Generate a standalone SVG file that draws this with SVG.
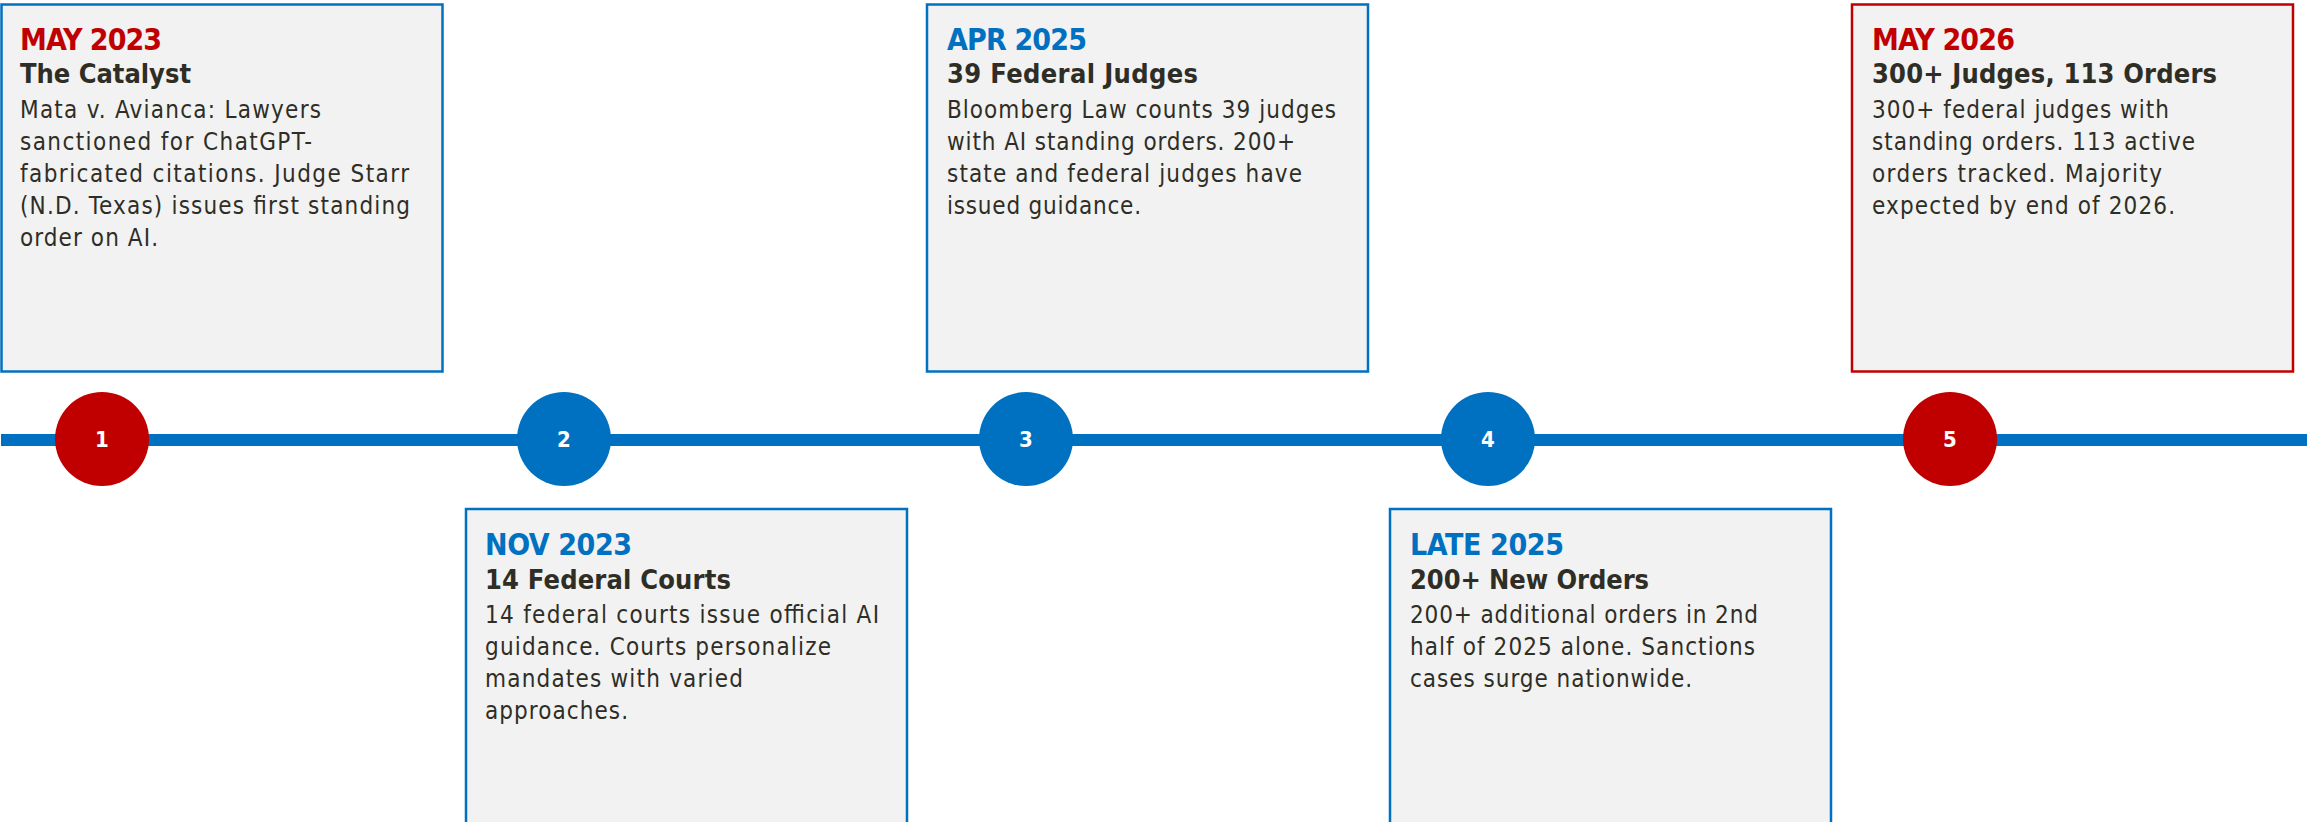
<svg xmlns="http://www.w3.org/2000/svg" width="2316" height="822" viewBox="0 0 2316 822">
<style>
.box{fill:#F2F2F2;stroke-width:2.5}
.bb{stroke:#0070C0}
.rb{stroke:#C00000}
text{font-family:"DejaVu Sans Condensed","DejaVu Sans",sans-serif;font-stretch:condensed}
.date{font-size:30px;font-weight:bold}
.red{fill:#C00000}
.blue{fill:#0070C0}
.sub{font-size:27px;font-weight:bold;fill:#2E2E26}
.body{font-size:24px;fill:#2E2E26}
.num{font-size:22px;font-weight:bold;fill:#FFFFFF;text-anchor:middle}
</style>
<rect width="2316" height="822" fill="#FFFFFF"/>
<g id="connectors">
<rect x="1" y="434" width="2306" height="12" fill="#0070C0"/>
</g>
<g id="event1">
<rect class="box bb" x="1.5" y="4.5" width="441" height="367"/>
<text class="date red" x="20" y="50" textLength="142">MAY 2023</text>
<text class="sub" x="20" y="83" textLength="171">The Catalyst</text>
<text class="body" x="20" y="118" textLength="301">Mata v. Avianca: Lawyers</text>
<text class="body" x="20" y="150" textLength="292">sanctioned for ChatGPT-</text>
<text class="body" x="20" y="182" textLength="389">fabricated citations. Judge Starr</text>
<text class="body" x="20" y="214" textLength="390">(N.D. Texas) issues first standing</text>
<text class="body" x="20" y="246" textLength="138">order on AI.</text>
</g>
<g id="event2">
<rect class="box bb" x="466" y="509" width="441" height="367"/>
<text class="date blue" x="485" y="555" textLength="147">NOV 2023</text>
<text class="sub" x="485" y="589" textLength="246">14 Federal Courts</text>
<text class="body" x="485" y="623" textLength="394">14 federal courts issue official AI</text>
<text class="body" x="485" y="655" textLength="346">guidance. Courts personalize</text>
<text class="body" x="485" y="687" textLength="258">mandates with varied</text>
<text class="body" x="485" y="719" textLength="143">approaches.</text>
</g>
<g id="event3">
<rect class="box bb" x="927" y="4.5" width="441" height="367"/>
<text class="date blue" x="947" y="50" textLength="140">APR 2025</text>
<text class="sub" x="947" y="83" textLength="251">39 Federal Judges</text>
<text class="body" x="947" y="118" textLength="389">Bloomberg Law counts 39 judges</text>
<text class="body" x="947" y="150" textLength="348">with AI standing orders. 200+</text>
<text class="body" x="947" y="182" textLength="355">state and federal judges have</text>
<text class="body" x="947" y="214" textLength="194">issued guidance.</text>
</g>
<g id="event4">
<rect class="box bb" x="1390" y="509" width="441" height="367"/>
<text class="date blue" x="1410" y="555" textLength="154">LATE 2025</text>
<text class="sub" x="1410" y="589" textLength="239">200+ New Orders</text>
<text class="body" x="1410" y="623" textLength="348">200+ additional orders in 2nd</text>
<text class="body" x="1410" y="655" textLength="345">half of 2025 alone. Sanctions</text>
<text class="body" x="1410" y="687" textLength="282">cases surge nationwide.</text>
</g>
<g id="event5">
<rect class="box rb" x="1852" y="4.5" width="441" height="367"/>
<text class="date red" x="1872" y="50" textLength="143">MAY 2026</text>
<text class="sub" x="1872" y="83" textLength="345">300+ Judges, 113 Orders</text>
<text class="body" x="1872" y="118" textLength="297">300+ federal judges with</text>
<text class="body" x="1872" y="150" textLength="323">standing orders. 113 active</text>
<text class="body" x="1872" y="182" textLength="290">orders tracked. Majority</text>
<text class="body" x="1872" y="214" textLength="303">expected by end of 2026.</text>
</g>
<g id="marker1"><circle cx="102" cy="439" r="47" fill="#C00000"/><text class="num" x="102" y="447">1</text></g>
<g id="marker2"><circle cx="564" cy="439" r="47" fill="#0070C0"/><text class="num" x="564" y="447">2</text></g>
<g id="marker3"><circle cx="1026" cy="439" r="47" fill="#0070C0"/><text class="num" x="1026" y="447">3</text></g>
<g id="marker4"><circle cx="1488" cy="439" r="47" fill="#0070C0"/><text class="num" x="1488" y="447">4</text></g>
<g id="marker5"><circle cx="1950" cy="439" r="47" fill="#C00000"/><text class="num" x="1950" y="447">5</text></g>
</svg>
